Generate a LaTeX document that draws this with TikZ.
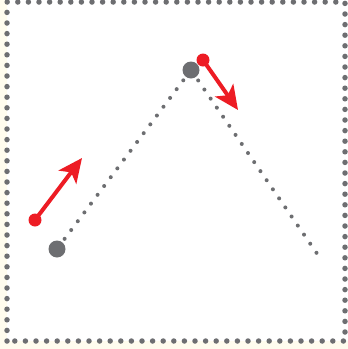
\documentclass[tikz,border=0pt]{standalone}
\usetikzlibrary{arrows.meta}
\definecolor{dotgray}{HTML}{6D6E71}
\definecolor{arrowred}{HTML}{ED1C24}
\definecolor{cream}{HTML}{FFFCEE}
\begin{document}
\begin{tikzpicture}[x=1pt,y=-1pt,
    bigdot/.style={circle,fill=dotgray,inner sep=0pt,minimum size=17pt},
    reddot/.style={circle,fill=arrowred,inner sep=0pt,minimum size=13pt},
    dotline/.style={dotgray,line width=4pt,line cap=round,dash pattern=on 0pt off 11pt},
    redarrow/.style={arrowred,line width=4pt,-{Stealth[length=24pt,width=22pt,inset=6pt]}}]
        % Frame
        \fill[cream] (0,0) rectangle (348,349);
        \fill[white] (7,0) rectangle (348,341);
        \useasboundingbox (0,0) rectangle (348,349);
        \draw[dotgray,line width=5.5pt,line cap=round,dash pattern=on 0pt off 10.6pt]
            (7,341) -- (7,2) -- (345,2) -- (345,341) -- cycle;

        % Path points
        \node[bigdot] (start) at (57,249) {};
        \node[bigdot] (peak) at (191,70) {};
        \coordinate (end) at (318,255);
        \draw[dotline, shorten <=4pt] (start) -- (peak);
        \draw[dotline, shorten <=4pt] (peak) -- (end);

        % Red arrows
        \node[reddot] (r1) at (35,220) {};
        \coordinate (t1) at (82,158);
        \draw[redarrow] (r1.center) -- (t1);
        \node[reddot] (r2) at (203,60) {};
        \coordinate (t2) at (238,110);
        \draw[redarrow] (r2.center) -- (t2);
    \end{tikzpicture}
\end{document}
